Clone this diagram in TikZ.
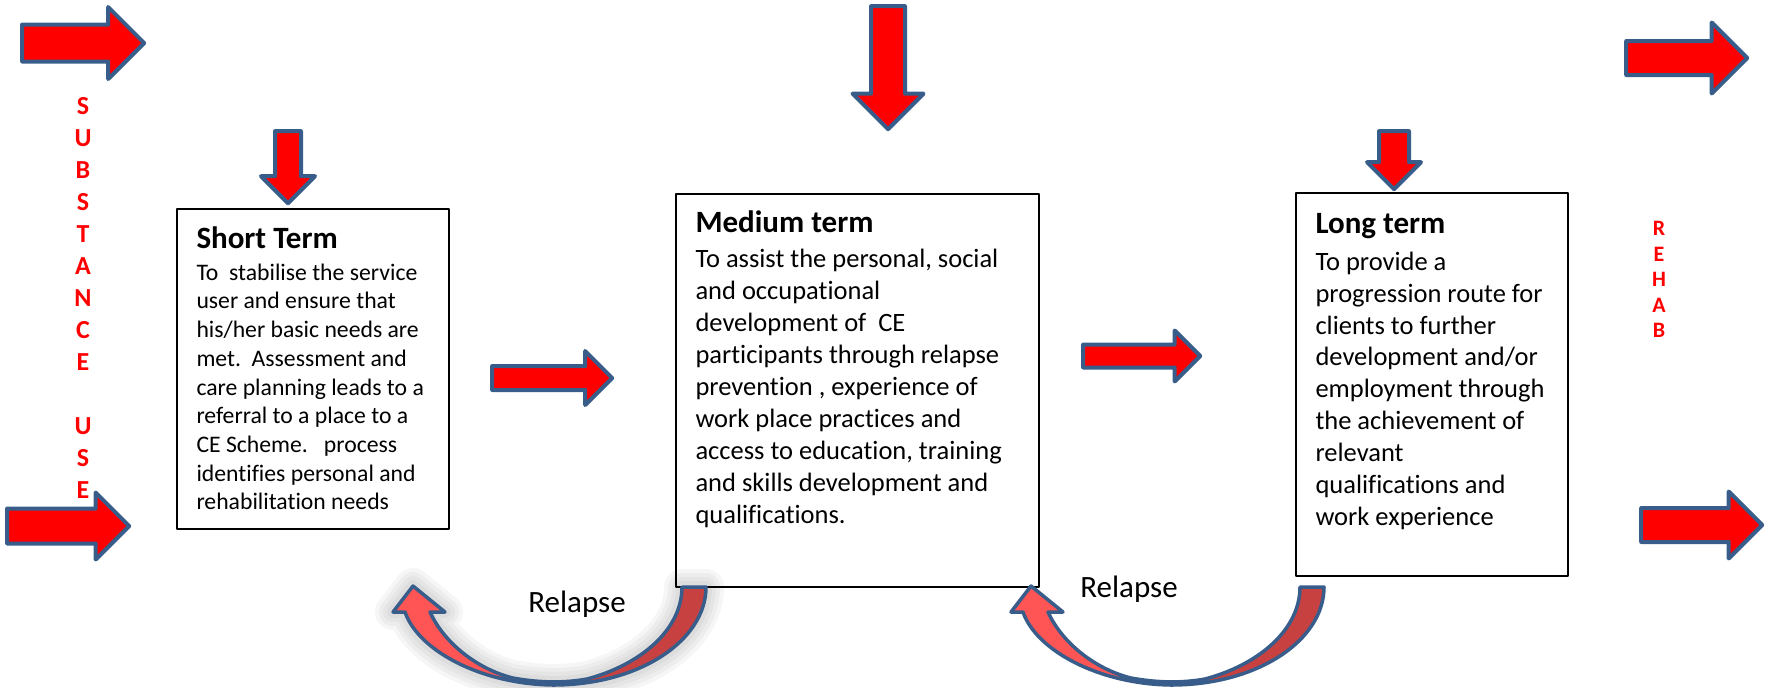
\documentclass[tikz,border=0pt]{standalone}
\usepackage{fontspec}
\setmainfont{Carlito}[Ligatures={NoCommon}]
\usetikzlibrary{shapes.arrows}
\definecolor{arrowblue}{RGB}{56,93,138}
\definecolor{arrowred}{RGB}{255,0,0}
\definecolor{relapsefront}{RGB}{255,85,85}
\definecolor{relapseback}{RGB}{200,65,65}
\newcommand\relapsepath{(706,587) .. controls (706,640) and (640,685) .. (553,685)
  .. controls (480,684) and (418,650) .. (405,612) -- (393,612) -- (413,586) -- (445,612) -- (430,612)
  .. controls (445,645) and (480,670) .. (513,678) .. controls (540,683) and (565,683) .. (587,679)
  .. controls (640,665) and (682,630) .. (682,587) -- cycle}
\tikzset{
  blockarrow/.style={single arrow, draw=arrowblue, fill=arrowred, line width=2pt, inner sep=0pt, anchor=tip},
  termbox/.style={draw, line width=0.9pt, inner sep=0pt},
  termtext/.style={anchor=north west, align=left, inner sep=0pt},
  relapselabel/.style={anchor=base, inner sep=0pt, font=\fontsize{15.5}{18}\selectfont},
  sideletters/.style={anchor=north, align=center, inner sep=0pt, text=red}
}
\begin{document}
\begin{tikzpicture}[x=0.5pt,y=-0.5pt,line join=round]
\useasboundingbox (0,0) rectangle (1771,687);
% the three stages
\node[termbox, minimum width=136pt, minimum height=160pt] (short) at (313,369) {};
\node[termbox, minimum width=181.5pt, minimum height=196.5pt] (medium) at (857.5,390.5) {};
\node[termbox, minimum width=136pt, minimum height=191.5pt] (long) at (1432,384.5) {};
\node[termtext, font=\fontsize{11.85}{14.35}\selectfont] (shorttext) at ([xshift=10pt,yshift=-9.3pt]short.north west)
  {{\fontsize{15.5}{18}\selectfont\bfseries Short Term}\\[1.35pt]
   To\ \ stabilise the service\\ user and ensure that\\ his/her basic needs are\\ met.\ \ Assessment and\\
   care planning leads to a\\ referral to a place to a\\ CE Scheme.\ \ \ process\\ identifies personal and\\
   rehabilitation needs};
\node[termtext, font=\fontsize{13.25}{15.95}\selectfont] (mediumtext) at ([xshift=10pt,yshift=-8.8pt]medium.north west)
  {{\fontsize{15.5}{18}\selectfont\bfseries Medium term}\\[1.55pt]
   To assist the personal, social\\ and occupational\\ development of\ \ CE\\ participants through relapse\\
   prevention , experience of\\ work place practices and\\ access to education, training\\
   and skills development and\\ qualifications.};
\node[termtext, font=\fontsize{13.25}{15.95}\selectfont] (longtext) at ([xshift=10pt,yshift=-10.65pt]long.north west)
  {{\fontsize{15.5}{18}\selectfont\bfseries Long term}\\[2.2pt]
   To provide a\\ progression route for\\ clients to further\\ development and/or\\ employment through\\
   the achievement of\\ relevant\\ qualifications and\\ work experience};
% side words
\node[sideletters, font=\fontsize{13}{16}\selectfont\bfseries] (substance) at (83,97.5)
  {S\\U\\B\\S\\T\\A\\N\\C\\E\\[16pt]U\\S\\E};
\node[sideletters, font=\fontsize{11}{12.75}\selectfont\bfseries] (rehab) at (1659,221) {R\\E\\H\\A\\B};
% block arrows
\node[blockarrow, inner ysep=8.25pt, single arrow head extend=8.75pt, minimum height=61pt] (inTop) at (147,43) {};
\node[blockarrow, inner ysep=7.75pt, single arrow head extend=8pt, minimum height=61pt] (inBottom) at (132,526) {};
\node[blockarrow, rotate=-90, inner ysep=5.5pt, single arrow head extend=7pt, minimum height=36pt] (intoShort) at (288,206) {};
\node[blockarrow, rotate=-90, inner ysep=7.5pt, single arrow head extend=9.25pt, minimum height=61.5pt] (intoMedium) at (888,132) {};
\node[blockarrow, rotate=-90, inner ysep=6.5pt, single arrow head extend=6pt, minimum height=29pt] (intoLong) at (1394,192) {};
\node[blockarrow, inner ysep=5pt, single arrow head extend=7.5pt, minimum height=60pt] (shortToMedium) at (615,378) {};
\node[blockarrow, inner ysep=4.75pt, single arrow head extend=7pt, minimum height=58.5pt] (mediumToLong) at (1203,356) {};
\node[blockarrow, inner ysep=7.5pt, single arrow head extend=9.25pt, minimum height=60.5pt] (outTop) at (1750,58) {};
\node[blockarrow, inner ysep=7.5pt, single arrow head extend=8.25pt, minimum height=60.5pt] (outBottom) at (1765,525) {};
% relapse arrows
\foreach \w in {18,14,10,6}
  \draw[black, opacity=0.035, line width=\w pt] \relapsepath;
\fill[relapsefront] \relapsepath;
\begin{scope}
\clip (550,560) rectangle (720,690);
\fill[relapseback] \relapsepath;
\end{scope}
\draw[arrowblue, line width=1.75pt] \relapsepath;
\begin{scope}[shift={(618,0)}]
\fill[relapsefront] \relapsepath;
\begin{scope}
\clip (550,560) rectangle (720,690);
\fill[relapseback] \relapsepath;
\end{scope}
\draw[arrowblue, line width=1.75pt] \relapsepath;
\end{scope}
\node[relapselabel] (relapseA) at (577,612) {Relapse};
\node[relapselabel] (relapseB) at (1129,597) {Relapse};
\end{tikzpicture}
\end{document}
